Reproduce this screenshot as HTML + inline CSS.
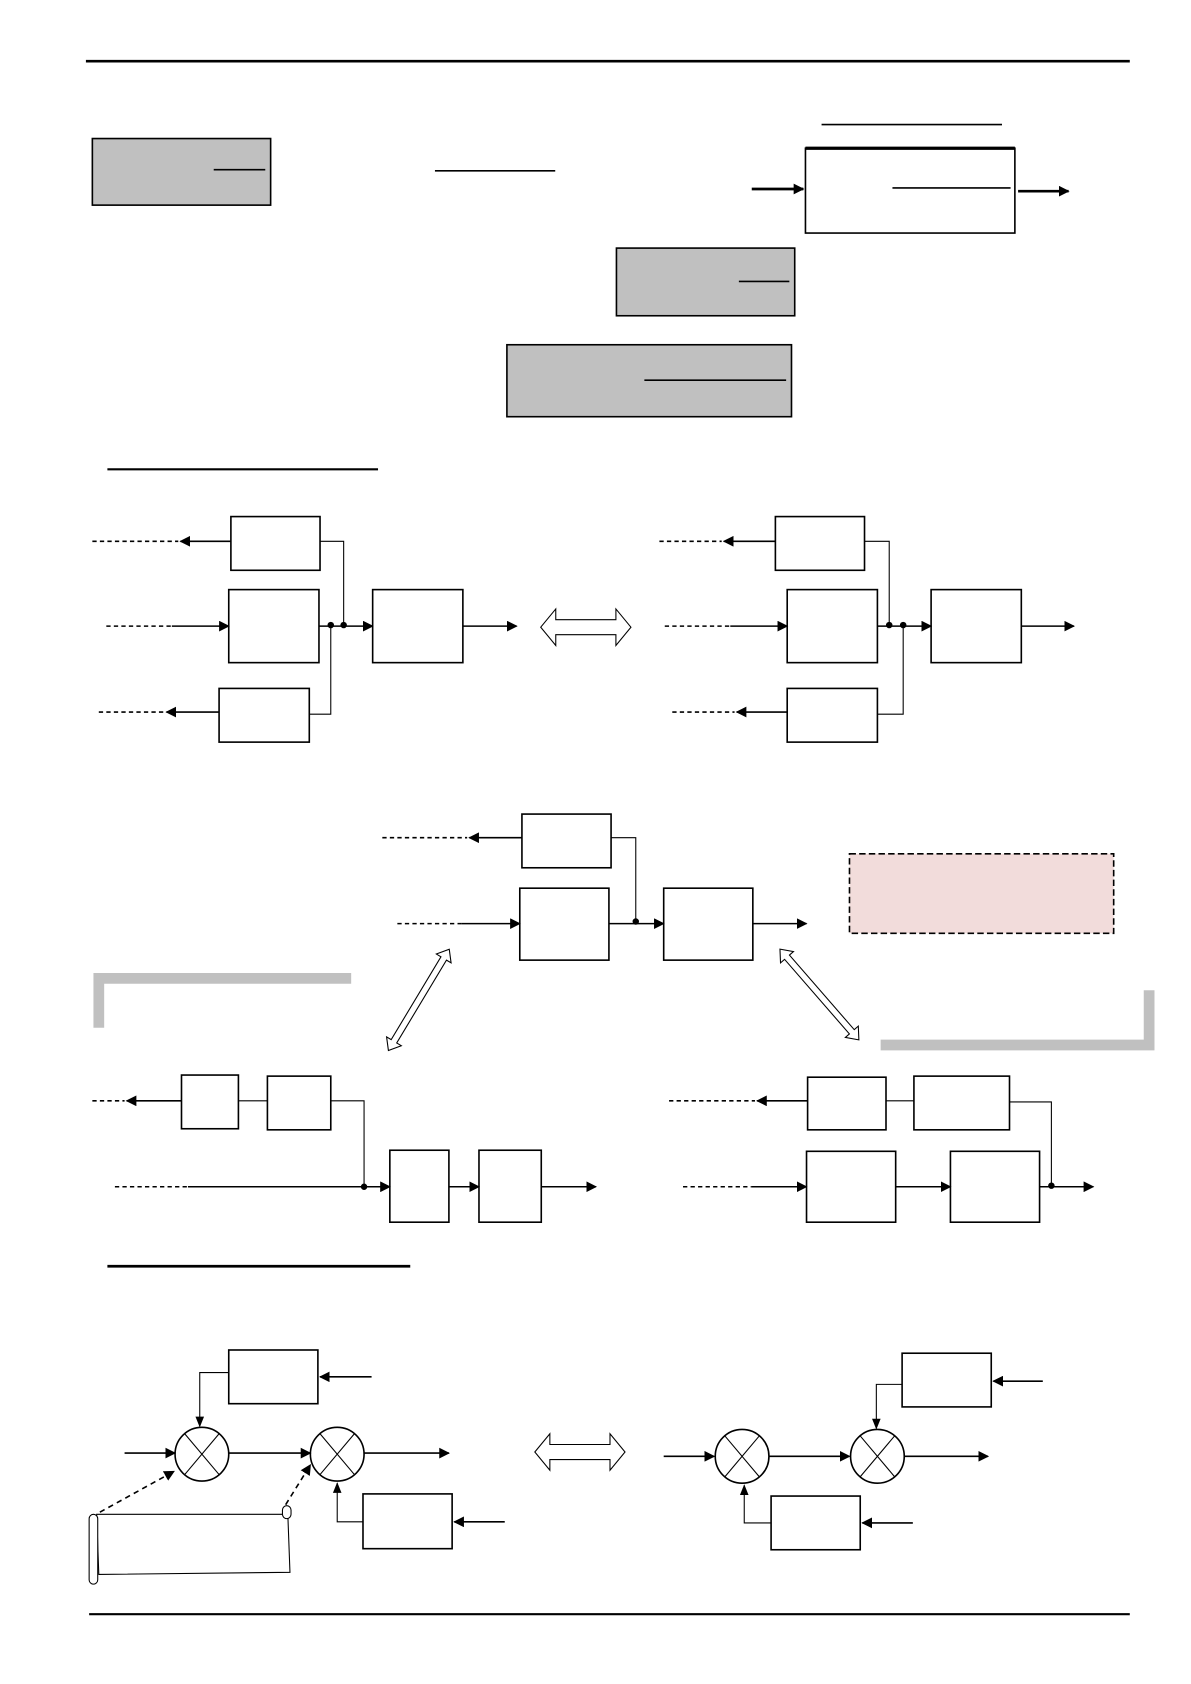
<!DOCTYPE html>
<html><head><meta charset="utf-8"><style>html,body{margin:0;padding:0;background:#fff}svg{display:block}</style></head><body>
<svg width="1191" height="1684" viewBox="0 0 1109 1568" preserveAspectRatio="none" xmlns="http://www.w3.org/2000/svg">
<defs>
<marker id="a" markerWidth="10" markerHeight="10" refX="9" refY="5" orient="auto" markerUnits="userSpaceOnUse"><path d="M0,0 L10,5 L0,10 z" fill="#000"/></marker>
<marker id="s" markerWidth="10" markerHeight="10" refX="9" refY="5" orient="auto" markerUnits="userSpaceOnUse"><path d="M0,1 L10,5 L0,9 z" fill="#000"/></marker>
<symbol id="dh" viewBox="-42 -17 84 34" overflow="visible"><polygon points="-42,0 -28,-17 -28,-7 28,-7 28,-17 42,0 28,17 28,7 -28,7 -28,17" fill="#fff" stroke="#000" stroke-width="1"/></symbol>
</defs>
<g fill="none" stroke="#000" stroke-width="1.5">
<line x1="80" y1="57" x2="1052" y2="57" stroke-width="2.5"/>
<rect x="86" y="129" width="166" height="62" fill="#c0c0c0"/>
<line x1="199" y1="158" x2="247" y2="158"/>
<line x1="405" y1="159" x2="517" y2="159"/>
<line x1="765" y1="116" x2="933" y2="116"/>
<rect x="750" y="138" width="195" height="79" fill="#fff"/>
<line x1="750" y1="138" x2="945" y2="138" stroke-width="3"/>
<line x1="831" y1="175" x2="941" y2="175"/>
<line x1="700" y1="176" x2="748" y2="176" stroke-width="2.5" marker-end="url(#a)"/>
<line x1="948" y1="178" x2="995" y2="178" stroke-width="2.5" marker-end="url(#a)"/>
<rect x="574" y="231" width="166" height="63" fill="#c0c0c0"/>
<line x1="688" y1="262" x2="735" y2="262"/>
<rect x="472" y="321" width="265" height="67" fill="#c0c0c0"/>
<line x1="600" y1="354" x2="732" y2="354"/>
<line x1="100" y1="437" x2="352" y2="437" stroke-width="2"/>

<rect x="215" y="481" width="83" height="50"/>
<rect x="213" y="549" width="84" height="68"/>
<rect x="204" y="641" width="84" height="50"/>
<rect x="347" y="549" width="84" height="68"/>
<line x1="215" y1="504" x2="168" y2="504" marker-end="url(#a)"/>
<line x1="86" y1="504" x2="166" y2="504" stroke-dasharray="4,3"/>
<line x1="99" y1="583" x2="160" y2="583" stroke-dasharray="4,3"/>
<line x1="160" y1="583" x2="213" y2="583" marker-end="url(#a)"/>
<line x1="204" y1="663" x2="155" y2="663" marker-end="url(#a)"/>
<line x1="92" y1="663" x2="153" y2="663" stroke-dasharray="4,3"/>
<line x1="297" y1="583" x2="347" y2="583" marker-end="url(#a)"/>
<polyline points="298,504 320,504 320,582" stroke-width="1"/>
<polyline points="288,665 308,665 308,582" stroke-width="1"/>
<line x1="431" y1="583" x2="481" y2="583" marker-end="url(#a)"/>
<rect x="722" y="481" width="83" height="50"/>
<rect x="733" y="549" width="84" height="68"/>
<rect x="733" y="641" width="84" height="50"/>
<rect x="867" y="549" width="84" height="68"/>
<line x1="722" y1="504" x2="674" y2="504" marker-end="url(#a)"/>
<line x1="614" y1="504" x2="672" y2="504" stroke-dasharray="4,3"/>
<line x1="619" y1="583" x2="680" y2="583" stroke-dasharray="4,3"/>
<line x1="680" y1="583" x2="733" y2="583" marker-end="url(#a)"/>
<line x1="733" y1="663" x2="686" y2="663" marker-end="url(#a)"/>
<line x1="626" y1="663" x2="684" y2="663" stroke-dasharray="4,3"/>
<line x1="817" y1="583" x2="867" y2="583" marker-end="url(#a)"/>
<polyline points="805,504 828,504 828,582" stroke-width="1"/>
<polyline points="817,665 841,665 841,582" stroke-width="1"/>
<line x1="951" y1="583" x2="1000" y2="583" marker-end="url(#a)"/>

<rect x="486" y="758" width="83" height="50"/>
<rect x="484" y="827" width="83" height="67"/>
<rect x="618" y="827" width="83" height="67"/>
<line x1="486" y1="780" x2="437" y2="780" marker-end="url(#a)"/>
<line x1="356" y1="780" x2="435" y2="780" stroke-dasharray="4,3"/>
<line x1="370" y1="860" x2="430" y2="860" stroke-dasharray="4,3"/>
<line x1="430" y1="860" x2="484" y2="860" marker-end="url(#a)"/>
<polyline points="569,780 592,780 592,858" stroke-width="1"/>
<line x1="567" y1="860" x2="618" y2="860" marker-end="url(#a)"/>
<line x1="701" y1="860" x2="751" y2="860" marker-end="url(#a)"/>
<rect x="791" y="795" width="246" height="74" fill="#f2dcdb" stroke-dasharray="6,3"/>
<polyline points="92,957 92,911 327,911" stroke="#c0c0c0" stroke-width="10"/>
<polyline points="1070,922 1070,973 820,973" stroke="#c0c0c0" stroke-width="10"/>

<rect x="169" y="1001" width="53" height="50"/>
<rect x="249" y="1002" width="59" height="50"/>
<rect x="363" y="1071" width="55" height="67"/>
<rect x="446" y="1071" width="58" height="67"/>
<line x1="222" y1="1025" x2="249" y2="1025" stroke-width="1"/>
<line x1="169" y1="1025" x2="118" y2="1025" marker-end="url(#a)"/>
<line x1="86" y1="1025" x2="116" y2="1025" stroke-dasharray="4,3"/>
<polyline points="308,1025 339,1025 339,1105" stroke-width="1"/>
<line x1="107" y1="1105" x2="175" y2="1105" stroke-dasharray="4,3"/>
<line x1="175" y1="1105" x2="363" y2="1105" marker-end="url(#a)"/>
<line x1="418" y1="1105" x2="446" y2="1105" marker-end="url(#a)"/>
<line x1="504" y1="1105" x2="555" y2="1105" marker-end="url(#a)"/>
<rect x="752" y="1003" width="73" height="49"/>
<rect x="851" y="1002" width="89" height="50"/>
<rect x="751" y="1072" width="83" height="66"/>
<rect x="885" y="1072" width="83" height="66"/>
<line x1="825" y1="1025" x2="851" y2="1025" stroke-width="1"/>
<line x1="752" y1="1025" x2="705" y2="1025" marker-end="url(#a)"/>
<line x1="623" y1="1025" x2="703" y2="1025" stroke-dasharray="4,3"/>
<line x1="636" y1="1105" x2="700" y2="1105" stroke-dasharray="4,3"/>
<line x1="700" y1="1105" x2="751" y2="1105" marker-end="url(#a)"/>
<line x1="834" y1="1105" x2="885" y2="1105" marker-end="url(#a)"/>
<line x1="968" y1="1105" x2="1018" y2="1105" marker-end="url(#a)"/>
<polyline points="940,1026 979,1026 979,1104" stroke-width="1"/>
<line x1="100" y1="1179" x2="382" y2="1179" stroke-width="2.5"/>

<rect x="213" y="1257" width="83" height="50"/>
<line x1="346" y1="1282" x2="298" y2="1282" marker-end="url(#a)"/>
<polyline points="213,1278 186,1278 186,1328" stroke-width="1" marker-end="url(#s)"/>
<ellipse cx="188" cy="1354" rx="25" ry="25"/>
<ellipse cx="314" cy="1354" rx="25" ry="25"/>
<g stroke-width="1"><line x1="172" y1="1335" x2="204" y2="1373"/><line x1="204" y1="1335" x2="172" y2="1373"/><line x1="298" y1="1335" x2="330" y2="1373"/><line x1="330" y1="1335" x2="298" y2="1373"/></g>
<line x1="116" y1="1353" x2="163" y2="1353" marker-end="url(#a)"/>
<line x1="213" y1="1353" x2="289" y2="1353" marker-end="url(#a)"/>
<line x1="339" y1="1353" x2="418" y2="1353" marker-end="url(#a)"/>
<rect x="338" y="1391" width="83" height="51"/>
<line x1="470" y1="1417" x2="423" y2="1417" marker-end="url(#a)"/>
<polyline points="338,1417 314,1417 314,1381" stroke-width="1" marker-end="url(#s)"/>
<path d="M90,1410 L268,1410 L270,1464 L92,1466 Z" fill="#fff" stroke-width="1"/>
<rect x="83" y="1410" width="8" height="65" rx="4" fill="#fff" stroke-width="1"/>
<rect x="263" y="1402" width="8" height="12" rx="4" fill="#fff" stroke-width="1"/>
<line x1="93" y1="1408" x2="162" y2="1370" stroke-dasharray="5,4" marker-end="url(#a)"/>
<line x1="266" y1="1401" x2="289" y2="1364" stroke-dasharray="5,4" marker-end="url(#a)"/>
<ellipse cx="691" cy="1356" rx="25" ry="25"/>
<ellipse cx="817" cy="1356" rx="25" ry="25"/>
<g stroke-width="1"><line x1="675" y1="1337" x2="707" y2="1375"/><line x1="707" y1="1337" x2="675" y2="1375"/><line x1="801" y1="1337" x2="833" y2="1375"/><line x1="833" y1="1337" x2="801" y2="1375"/></g>
<rect x="840" y="1260" width="83" height="50"/>
<line x1="971" y1="1286" x2="925" y2="1286" marker-end="url(#a)"/>
<polyline points="840,1289 816,1289 816,1330" stroke-width="1" marker-end="url(#s)"/>
<line x1="618" y1="1356" x2="665" y2="1356" marker-end="url(#a)"/>
<line x1="716" y1="1356" x2="791" y2="1356" marker-end="url(#a)"/>
<line x1="842" y1="1356" x2="920" y2="1356" marker-end="url(#a)"/>
<rect x="718" y="1393" width="83" height="50"/>
<line x1="850" y1="1418" x2="803" y2="1418" marker-end="url(#a)"/>
<polyline points="718,1418 693,1418 693,1383" stroke-width="1" marker-end="url(#s)"/>
<line x1="83" y1="1503" x2="1052" y2="1503" stroke-width="2"/>
</g>
<use href="#dh" x="503" y="567" width="85" height="34"/>
<use href="#dh" x="498" y="1335" width="84" height="34"/>
<g transform="translate(390,931) rotate(-59)"><polygon points="-55,0 -45,-8 -45,-3 45,-3 45,-8 55,0 45,8 45,3 -45,3 -45,8" fill="#fff" stroke="#000" stroke-width="1"/></g>
<g transform="translate(763,926) rotate(49)"><polygon points="-56,0 -46,-8 -46,-3 46,-3 46,-8 56,0 46,8 46,3 -46,3 -46,8" fill="#fff" stroke="#000" stroke-width="1"/></g>
<g fill="#000"><circle cx="308" cy="582" r="3"/><circle cx="320" cy="582" r="3"/><circle cx="828" cy="582" r="3"/><circle cx="841" cy="582" r="3"/><circle cx="592" cy="858" r="3"/><circle cx="339" cy="1105" r="3"/><circle cx="979" cy="1104" r="3"/></g>
</svg>
</body></html>
